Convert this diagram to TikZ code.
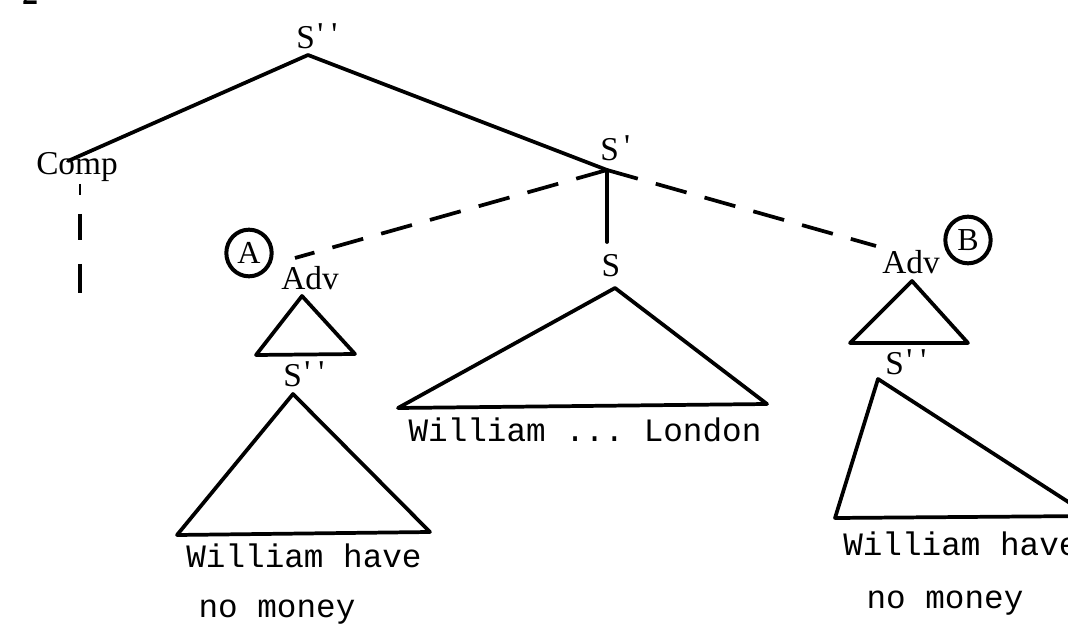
\documentclass[tikz,border=0pt]{standalone}
\usepackage{fontspec}
\usetikzlibrary{shapes.geometric}
\setmainfont{Liberation Serif}
\setmonofont{Liberation Mono}
% a double prime set as two spaced ticks
\newcommand{\twoticks}{\hspace{2pt}\raisebox{2pt}{\textquotesingle}\hspace{6pt}\raisebox{2pt}{\textquotesingle}}
\newcommand{\onetick}{\hspace{4pt}\raisebox{2pt}{\textquotesingle}}
\begin{document}
\begin{tikzpicture}[x=0.75pt,y=-0.75pt,
  lbl/.style={inner sep=0pt,font=\fontsize{25}{27}\selectfont},
  words/.style={inner sep=0pt,font=\ttfamily\fontsize{24.5}{26}\selectfont},
  branch/.style={line width=2.8pt,line cap=round,line join=round},
  dbranch/.style={line width=2.8pt,dash pattern=on 24pt off 14pt},
  tracemark/.style={line width=3.4pt},
  ring/.style={draw,line width=3pt,ellipse,minimum width=34pt,minimum height=35pt,inner sep=0pt,font=\fontsize{24}{26}\selectfont}]
\useasboundingbox (0,0) rectangle (1068,631);
\clip (0,0) rectangle (1068,631);

% corner of the figure number
\node[inner sep=0pt,font=\bfseries\fontsize{24}{26}\selectfont] (fignum) at (30,-6) {2};

% top node and its daughters
\node[lbl,anchor=west] (top) at (296,36) {S\twoticks};
\coordinate (topc) at (308,55);
\node[lbl] (comp) at (77,167) {Comp};
\coordinate (compc) at (68,161);
\node[lbl,anchor=west] (sbar) at (600,148) {S\onetick};
\coordinate (sbarc) at (607,170);
\draw[branch] (topc) -- (compc);
\draw[branch] (topc) -- (sbarc);

% trace below Comp: three short strokes
\coordinate (t1a) at (80,184);
\coordinate (t1b) at (80,195);
\coordinate (t2a) at (80,214);
\coordinate (t2b) at (80,240);
\coordinate (t3a) at (80,264);
\coordinate (t3b) at (80,293);
\draw[line width=2pt] (t1a) -- (t1b);
\draw[tracemark] (t2a) -- (t2b);
\draw[tracemark] (t3a) -- (t3b);

% S' to S
\node[lbl] (s) at (611,266) {S};
\coordinate (sc) at (607,242);
\draw[branch] (sbarc) -- (sc);

% adverbial attachments
\coordinate (advAc) at (295,258);
\coordinate (advBc) at (876,246);
\draw[dbranch] (sbarc) -- (advAc);
\draw[dbranch] (sbarc) -- (advBc);

% left adverbial
\node[lbl] (advA) at (310,278) {Adv};
\node[ring] (ringA) at (249,253) {A};
\coordinate (a1) at (302,296);
\coordinate (a2) at (256,355);
\coordinate (a3) at (355,354);
\draw[branch] (a1) -- (a2) -- (a3) -- cycle;
\node[lbl,anchor=west] (ssA) at (283,374) {S\twoticks};
\coordinate (b1) at (293,394);
\coordinate (b2) at (177,535);
\coordinate (b3) at (430,532);
\draw[branch] (b1) -- (b2) -- (b3) -- cycle;
\node[words] (wA) at (304,556) {William have};
\node[words] (mA) at (277,612) {no money};

% main clause
\coordinate (c1) at (615,288);
\coordinate (c2) at (398,408);
\coordinate (c3) at (767,404);
\draw[branch] (c1) -- (c2) -- (c3) -- cycle;
\node[words] (wS) at (585,430) {William ... London};

% right adverbial
\node[lbl] (advB) at (911,262) {Adv};
\node[ring] (ringB) at (968,240) {B};
\coordinate (d1) at (912,281);
\coordinate (d2) at (850,343);
\coordinate (d3) at (968,343);
\draw[branch] (d1) -- (d2) -- (d3) -- cycle;
\node[lbl,anchor=west] (ssB) at (885,362) {S\twoticks};
\coordinate (e1) at (878,379);
\coordinate (e2) at (835,518);
\coordinate (e3) at (1090,516);
\draw[branch] (e1) -- (e2) -- (e3) -- cycle;
\node[words,anchor=west] (wB) at (843,544) {William have};
\node[words] (mB) at (945,603) {no money};
\end{tikzpicture}
\end{document}
